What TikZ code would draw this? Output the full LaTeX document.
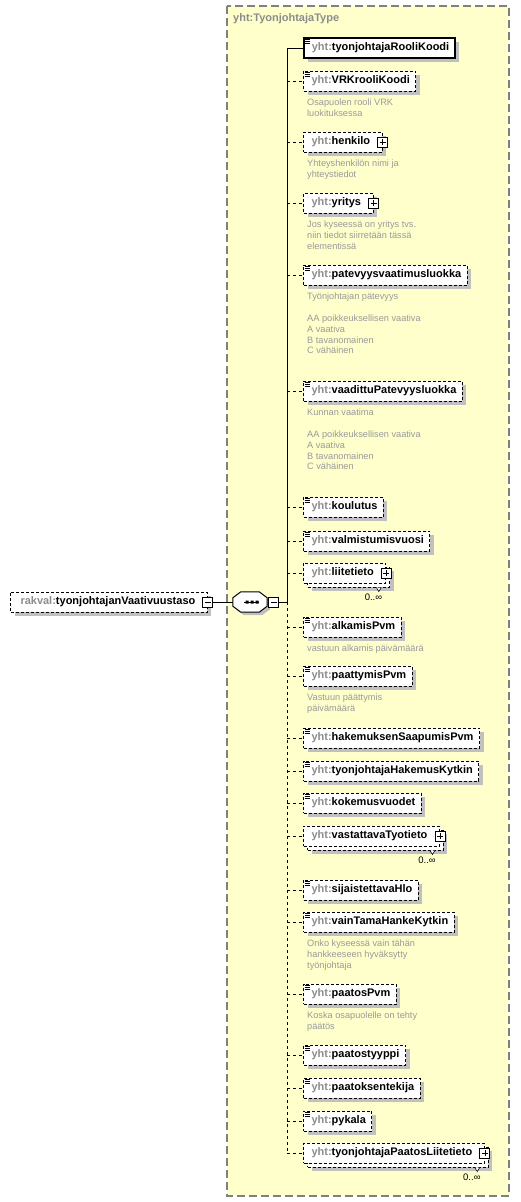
\documentclass[tikz,border=0pt]{standalone}
\usepackage{fontspec}
\setmainfont{Liberation Sans}
\usepackage{xcolor}
\usetikzlibrary{shadows,positioning,calc}

\definecolor{boxyellow}{HTML}{FFFFCC}
\definecolor{framegray}{HTML}{808080}
\definecolor{pfxgray}{HTML}{8C8C8C}
\definecolor{docgray}{HTML}{999999}
\definecolor{shgray}{HTML}{C0C0C0}

\newcommand{\yht}{\textcolor{pfxgray}{yht:}}
\newcommand{\plusbox}[2]{%
  \node[pmbox] (#1) at (#2) {};
  \draw ($(#1.center)+(-3,0)$) -- ($(#1.center)+(3,0)$) ($(#1.center)+(0,-3)$) -- ($(#1.center)+(0,3)$);}
\newcommand{\minusbox}[2]{%
  \node[pmbox] (#1) at (#2) {};
  \draw ($(#1.center)+(-3,0)$) -- ($(#1.center)+(3,0)$);}
\newcommand{\simple}[1]{%
  \draw[line width=0.7pt] ([shift={(1.5pt,-2pt)}]#1.north west) -- ++(5,0)
    ([shift={(1.5pt,-3.8pt)}]#1.north west) -- ++(5,0)
    ([shift={(1.5pt,-5.6pt)}]#1.north west) -- ++(5,0);}
\newcommand{\octpath}[1]{([xshift=8pt]#1.north west) -- ([xshift=-8pt]#1.north east)
  -- ([yshift=-6pt]#1.north east) -- ([yshift=6pt]#1.south east) -- ([xshift=-8pt]#1.south east)
  -- ([xshift=8pt]#1.south west) -- ([yshift=6pt]#1.south west) -- ([yshift=-6pt]#1.north west) -- cycle}

\begin{document}
\begin{tikzpicture}[
    x=1pt, y=-1pt,
    pad/.style 2 args={execute at begin node={\hspace*{#1}}, execute at end node={\hspace*{#2}}},
    base/.style={rectangle, draw, fill=white, line width=1pt, anchor=west, minimum height=20pt,
      inner xsep=0pt, inner ysep=0pt, text height=8pt, text depth=2.5pt,
      font=\fontsize{11}{13}\selectfont\bfseries},
    shadowed/.style={drop shadow={shadow xshift=4pt, shadow yshift=-4pt, fill=shgray, opacity=1, draw=none}},
    elem/.style={base, pad={8pt}{6pt}, shadowed},
    elemx/.style={base, pad={8pt}{12pt}, shadowed},
    multi/.style={base, pad={8pt}{12pt},
      drop shadow={shadow xshift=8pt, shadow yshift=-8pt, fill=shgray, opacity=1, draw=none},
      copy shadow={shadow xshift=4pt, shadow yshift=-4pt, fill=white, draw=black, opacity=1}},
    opt/.style={dash pattern=on 3pt off 2pt},
    doc/.style={anchor=north west, inner sep=0pt, align=left, text=docgray,
      font=\fontsize{9.2}{10.8}\selectfont},
    occ/.style={anchor=north east, inner sep=0pt, font=\fontsize{9.5}{11}\selectfont},
    pmbox/.style={rectangle, draw, fill=white, line width=0.8pt, minimum size=10pt, inner sep=0pt},
    link/.style={line width=1pt},
    dlink/.style={line width=1pt, dash pattern=on 3pt off 3pt},
    notch/.style={fill=white, line width=0.6pt}
]
\useasboundingbox (0,0) rectangle (520,1202);

% type container
\draw[fill=boxyellow, draw=framegray, line width=1.5pt, dash pattern=on 8pt off 4pt] (227,6) rectangle (509,1196);
\node[anchor=west, inner sep=0pt, text=pfxgray, font=\fontsize{11}{13}\selectfont\bfseries] (title) at (233,19) {yht:TyonjohtajaType};

% root element and sequence
\node[base, opt, pad={10pt}{12pt}, shadowed] (root) at (10,602) {\textcolor{pfxgray}{rakval:}tyonjohtajanVaativuustaso};
\minusbox{rootm}{root.east}
\node[rectangle, minimum width=34pt, minimum height=20pt, inner sep=0pt] (seq) at (250,602) {};
\fill[shgray, transform canvas={shift={(3pt,-3pt)}}] \octpath{seq};
\draw[fill=white, line width=1pt] \octpath{seq};
\draw[line width=1pt] ([xshift=-6pt]seq.center) -- ([xshift=9pt]seq.center);
\fill ([shift={(-4.5pt,1.5pt)}]seq.center) rectangle ++(3,3)
  ([shift={(0.5pt,1.5pt)}]seq.center) rectangle ++(3,3)
  ([shift={(5.5pt,1.5pt)}]seq.center) rectangle ++(3,3);
\minusbox{seqm}{[xshift=6.5pt]seq.east}
\draw[link] (rootm.east) -- (seq.west);

% children
\node[elem, line width=1.5pt] (rooli) at (303,48) {\yht tyonjohtajaRooliKoodi};
\simple{rooli}
\node[elem, opt] (vrk) at (303,81) {\yht VRKrooliKoodi};
\simple{vrk}
\node[doc] (vrkdoc) at (307,99) {Osapuolen rooli VRK\\luokituksessa};
\node[elemx, opt] (henkilo) at (303,142) {\yht henkilo};
\plusbox{henkilop}{henkilo.east}
\node[doc] (henkilodoc) at (307,160) {Yhteyshenkilön nimi ja\\yhteystiedot};
\node[elemx, opt] (yritys) at (303,203) {\yht yritys};
\plusbox{yritysp}{yritys.east}
\node[doc] (yritysdoc) at (307,221) {Jos kyseessä on yritys tvs.\\niin tiedot siirretään tässä\\elementissä};
\node[elem, opt] (patevyys) at (303,275) {\yht patevyysvaatimusluokka};
\simple{patevyys}
\node[doc] (patevyysdoc) at (307,293) {Työnjohtajan pätevyys\\[10.8pt]AA poikkeuksellisen vaativa\\A vaativa\\B tavanomainen\\C vähäinen};
\node[elem, opt] (vaadittu) at (303,391) {\yht vaadittuPatevyysluokka};
\simple{vaadittu}
\node[doc] (vaadittudoc) at (307,409) {Kunnan vaatima\\[10.8pt]AA poikkeuksellisen vaativa\\A vaativa\\B tavanomainen\\C vähäinen};
\node[elem, opt] (koulutus) at (303,507) {\yht koulutus};
\simple{koulutus}
\node[elem, opt] (valmistumis) at (303,541) {\yht valmistumisvuosi};
\simple{valmistumis}
\node[multi, opt] (liite) at (303,573) {\yht liitetieto};
\plusbox{liitep}{liite.east}
\draw[notch] ([shift={(-10pt,-4pt)}]liite.south east) -- ++(2.5,4) -- ++(2.5,-4);
\node[occ] (liiteocc) at ([shift={(-4pt,-10pt)}]liite.south east) {0..∞};
\node[elem, opt] (alkamis) at (303,627) {\yht alkamisPvm};
\simple{alkamis}
\node[doc] (alkamisdoc) at (307,645) {vastuun alkamis päivämäärä};
\node[elem, opt] (paattymis) at (303,676) {\yht paattymisPvm};
\simple{paattymis}
\node[doc] (paattymisdoc) at (307,694) {Vastuun päättymis\\päivämäärä};
\node[elem, opt] (hakemus) at (303,738) {\yht hakemuksenSaapumisPvm};
\simple{hakemus}
\node[elem, opt] (kytkin) at (303,771) {\yht tyonjohtajaHakemusKytkin};
\simple{kytkin}
\node[elem, opt] (kokemus) at (303,803) {\yht kokemusvuodet};
\simple{kokemus}
\node[multi, opt] (vastattava) at (303,836) {\yht vastattavaTyotieto};
\plusbox{vastattavap}{vastattava.east}
\draw[notch] ([shift={(-10pt,-4pt)}]vastattava.south east) -- ++(2.5,4) -- ++(2.5,-4);
\node[occ] (vastattavaocc) at ([shift={(-4pt,-10pt)}]vastattava.south east) {0..∞};
\node[elem, opt] (sijainen) at (303,890) {\yht sijaistettavaHlo};
\simple{sijainen}
\node[elem, opt] (hanke) at (303,922) {\yht vainTamaHankeKytkin};
\simple{hanke}
\node[doc] (hankedoc) at (307,940) {Onko kyseessä vain tähän\\hankkeeseen hyväksytty\\työnjohtaja};
\node[elem, opt] (paatospvm) at (303,994) {\yht paatosPvm};
\simple{paatospvm}
\node[doc] (paatospvmdoc) at (307,1012) {Koska osapuolelle on tehty\\päätös};
\node[elem, opt] (tyyppi) at (303,1055) {\yht paatostyyppi};
\simple{tyyppi}
\node[elem, opt] (tekija) at (303,1088) {\yht paatoksentekija};
\simple{tekija}
\node[elem, opt] (pykala) at (303,1121) {\yht pykala};
\simple{pykala}
\node[multi, opt] (paatosliite) at (303,1153) {\yht tyonjohtajaPaatosLiitetieto};
\plusbox{paatosliitep}{paatosliite.east}
\draw[notch] ([shift={(-10pt,-4pt)}]paatosliite.south east) -- ++(2.5,4) -- ++(2.5,-4);
\node[occ] (paatosliiteocc) at ([shift={(-4pt,-10pt)}]paatosliite.south east) {0..∞};

% connectors
\coordinate (spine) at (287,48);
\draw[link] (seqm.east) -- (seqm.east -| spine);
\draw[link] (spine) -- (seqm.east -| spine);
\draw[dlink] (seqm.east -| spine) -- (paatosliite.west -| spine);
\draw[link] (spine) -- (rooli.west);
\draw[dlink] (vrk.west -| spine) -- (vrk.west);
\draw[dlink] (henkilo.west -| spine) -- (henkilo.west);
\draw[dlink] (yritys.west -| spine) -- (yritys.west);
\draw[dlink] (patevyys.west -| spine) -- (patevyys.west);
\draw[dlink] (vaadittu.west -| spine) -- (vaadittu.west);
\draw[dlink] (koulutus.west -| spine) -- (koulutus.west);
\draw[dlink] (valmistumis.west -| spine) -- (valmistumis.west);
\draw[dlink] (liite.west -| spine) -- (liite.west);
\draw[dlink] (alkamis.west -| spine) -- (alkamis.west);
\draw[dlink] (paattymis.west -| spine) -- (paattymis.west);
\draw[dlink] (hakemus.west -| spine) -- (hakemus.west);
\draw[dlink] (kytkin.west -| spine) -- (kytkin.west);
\draw[dlink] (kokemus.west -| spine) -- (kokemus.west);
\draw[dlink] (vastattava.west -| spine) -- (vastattava.west);
\draw[dlink] (sijainen.west -| spine) -- (sijainen.west);
\draw[dlink] (hanke.west -| spine) -- (hanke.west);
\draw[dlink] (paatospvm.west -| spine) -- (paatospvm.west);
\draw[dlink] (tyyppi.west -| spine) -- (tyyppi.west);
\draw[dlink] (tekija.west -| spine) -- (tekija.west);
\draw[dlink] (pykala.west -| spine) -- (pykala.west);
\draw[dlink] (paatosliite.west -| spine) -- (paatosliite.west);

\end{tikzpicture}
\end{document}
